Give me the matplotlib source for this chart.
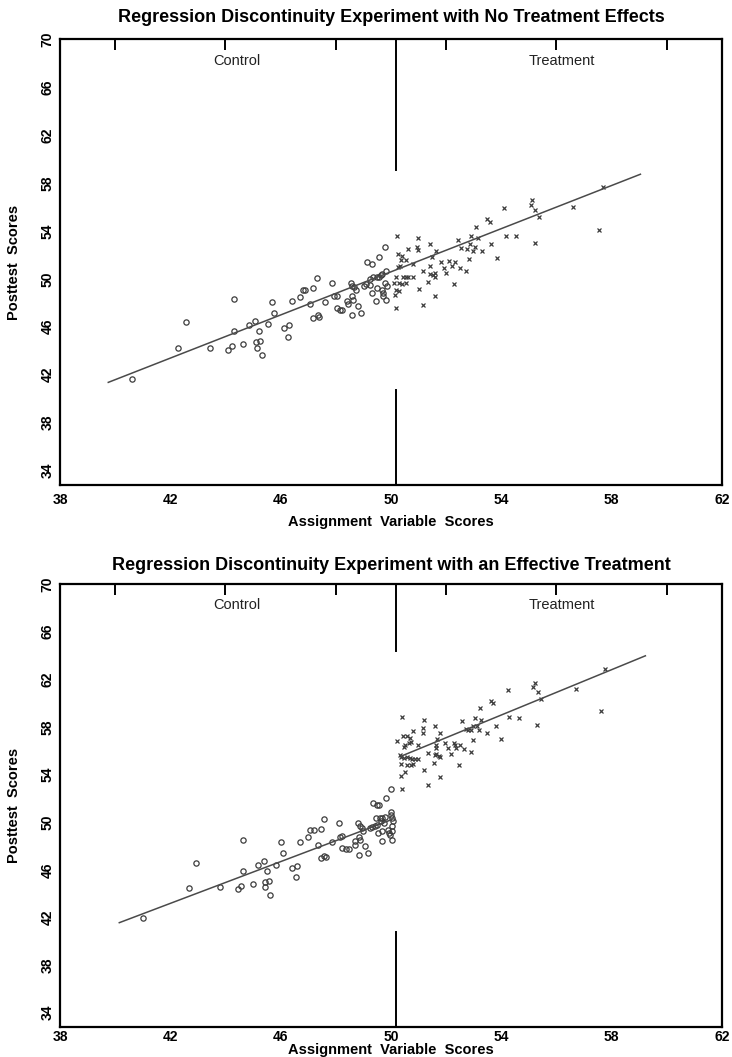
#%% IMPORTS
import numpy as np
import matplotlib
matplotlib.use('Agg')
from matplotlib import pyplot as plt
from matplotlib.ticker import FixedLocator

#%% DATA
# top panel - no treatment effect
top_ctrl_x = [40.62, 42.29, 42.57, 43.45, 44.30, 44.10, 44.24, 44.30, 44.65, 44.85, 45.07, 45.20, 45.10,
              45.26, 45.14, 45.32, 45.54, 45.69, 45.77, 46.14, 46.30, 46.26, 46.43, 46.72, 46.82, 46.90,
              47.19, 47.32, 47.08, 47.18, 47.34, 47.40, 47.61, 47.87, 47.94, 48.06, 48.03, 48.14, 48.23,
              48.42, 48.46, 48.54, 48.60, 48.66, 48.60, 48.63, 48.59, 48.81, 48.92, 48.75, 49.03, 49.11,
              49.23, 49.15, 49.33, 49.26, 49.35, 49.48, 49.57, 49.32, 49.45, 49.57, 49.48, 49.66, 49.72,
              49.70, 49.79, 49.81, 49.80, 49.86, 49.82, 49.64, 49.69]
top_ctrl_y = [41.67, 44.25, 46.39, 44.25, 48.31, 44.10, 44.36, 45.67, 44.53, 46.14, 46.44, 45.64, 44.72,
              44.83, 44.25, 43.61, 46.19, 48.08, 47.17, 45.89, 46.14, 45.14, 48.11, 48.47, 49.06, 49.06,
              49.22, 50.06, 47.86, 46.72, 46.94, 46.80, 48.06, 49.69, 48.58, 48.58, 47.56, 47.42, 47.42,
              48.11, 47.92, 49.64, 49.42, 49.31, 48.53, 48.25, 46.94, 47.75, 47.14, 49.03, 49.36, 49.58,
              49.50, 51.42, 51.25, 50.00, 50.19, 50.14, 50.19, 48.81, 48.11, 51.78, 49.22, 49.08, 48.81,
              48.58, 52.61, 50.67, 49.67, 49.36, 48.22, 50.31, 50.42]
top_trt_x = [50.21, 50.20, 50.15, 50.20, 50.29, 50.13, 50.17, 50.28, 50.24, 50.32, 50.27, 50.42, 50.40,
             50.44, 50.54, 50.56, 50.63, 50.38, 50.54, 50.62, 50.81, 50.82, 50.95, 50.99, 51.00, 51.02,
             51.16, 51.16, 51.36, 51.43, 51.41, 51.43, 51.49, 51.53, 51.59, 51.61, 51.65, 51.60, 51.82,
             51.93, 52.00, 52.10, 52.20, 52.31, 52.30, 52.42, 52.50, 52.55, 52.73, 52.77, 52.82, 52.87,
             52.92, 52.99, 53.04, 53.10, 53.16, 53.32, 53.47, 53.58, 53.64, 53.86, 54.10, 54.16, 54.52,
             55.10, 55.09, 55.24, 55.21, 55.37, 56.61, 57.69, 57.55]
top_trt_y = [53.61, 47.56, 48.61, 49.03, 48.94, 49.69, 50.11, 49.64, 50.97, 51.08, 52.06, 51.94, 49.58,
             50.19, 50.19, 49.64, 50.14, 51.58, 51.53, 52.47, 50.11, 51.25, 52.64, 52.36, 53.42, 49.14,
             47.81, 50.61, 49.72, 52.92, 50.42, 51.08, 51.81, 50.31, 50.19, 50.47, 52.33, 48.53, 51.39,
             50.92, 50.50, 51.50, 51.03, 51.39, 49.56, 53.25, 50.86, 52.56, 50.61, 52.47, 51.64, 52.92,
             53.58, 52.31, 52.64, 54.36, 53.44, 52.33, 54.97, 54.75, 52.86, 51.72, 55.94, 53.61, 53.56,
             56.53, 56.17, 55.75, 52.97, 55.14, 55.97, 57.64, 54.08]
top_fit_x = [39.75, 59.05]
top_fit_y = [41.36, 58.72]

# bottom panel - effective treatment
bot_ctrl_x = [41.02, 42.66, 42.93, 43.80, 44.63, 44.44, 44.58, 44.63, 45.00, 45.17, 45.39, 45.51, 45.43,
              45.57, 45.45, 45.63, 45.85, 46.00, 46.07, 46.43, 46.59, 46.55, 46.72, 47.00, 47.08, 47.20,
              47.47, 47.59, 47.34, 47.47, 47.58, 47.66, 47.87, 48.11, 48.16, 48.24, 48.24, 48.36, 48.48,
              48.69, 48.71, 48.81, 48.87, 48.96, 48.85, 48.87, 48.85, 49.05, 49.17, 48.99, 49.23, 49.33,
              49.42, 49.51, 49.35, 49.50, 49.57, 49.45, 49.59, 49.69, 49.79, 49.65, 49.74, 49.55, 49.68,
              49.68, 49.81, 49.88, 49.93, 49.96, 50.00, 50.00, 50.03, 50.07, 50.03, 50.04, 50.03, 49.99]
bot_ctrl_y = [41.92, 44.50, 46.61, 44.53, 48.47, 44.36, 44.64, 45.89, 44.78, 46.39, 46.72, 45.86, 45.00,
              45.08, 44.56, 43.89, 46.42, 48.31, 47.42, 46.14, 46.36, 45.42, 48.33, 48.72, 49.31, 49.31,
              49.42, 50.28, 48.08, 47.00, 47.19, 47.06, 48.31, 49.92, 48.78, 48.81, 47.83, 47.72, 47.72,
              48.39, 48.11, 49.92, 49.64, 49.50, 48.72, 48.47, 47.22, 47.97, 47.44, 49.22, 49.50, 49.61,
              49.64, 49.78, 51.64, 51.44, 51.44, 50.33, 50.39, 50.39, 50.42, 50.06, 49.97, 49.08, 49.22,
              48.39, 52.00, 49.36, 49.08, 48.89, 50.89, 50.61, 50.39, 50.11, 49.64, 49.28, 48.47, 52.81]
bot_trt_x = [50.40, 51.35, 50.42, 50.22, 50.45, 50.58, 50.68, 50.46, 50.50, 50.64, 50.72, 50.32, 50.37,
             50.46, 50.58, 50.68, 50.78, 50.87, 50.98, 50.36, 50.58, 50.72, 50.80, 50.36, 50.50, 50.82,
             50.98, 51.19, 51.15, 51.15, 51.21, 51.34, 51.55, 51.59, 51.65, 51.75, 51.77, 51.61, 51.67,
             51.79, 51.62, 51.65, 51.79, 51.96, 52.08, 52.18, 52.28, 52.34, 52.37, 52.48, 52.49, 52.58,
             52.66, 52.72, 52.81, 52.90, 52.96, 52.92, 52.99, 53.05, 53.14, 53.19, 53.26, 53.25, 53.47,
             53.62, 53.72, 53.80, 54.00, 54.23, 54.29, 54.63, 55.21, 55.17, 55.32, 55.31, 55.45, 56.70,
             57.75, 57.62]
bot_trt_y = [52.81, 53.11, 58.81, 56.78, 57.25, 57.22, 57.11, 56.31, 56.50, 56.61, 56.72, 55.61, 55.47,
             55.39, 55.44, 55.39, 55.33, 55.33, 55.28, 54.92, 54.83, 54.83, 54.92, 53.89, 54.22, 57.69,
             56.50, 58.61, 57.89, 57.53, 54.39, 55.83, 55.00, 55.61, 55.75, 55.56, 55.44, 58.11, 57.00,
             57.50, 56.44, 56.22, 53.81, 56.61, 56.25, 55.72, 56.67, 56.50, 56.25, 54.78, 56.50, 58.47,
             56.17, 57.83, 57.75, 55.86, 56.86, 57.72, 58.06, 58.78, 58.06, 57.78, 58.61, 59.56, 57.53,
             60.19, 59.97, 58.08, 57.00, 61.14, 58.83, 58.78, 61.72, 61.31, 60.94, 58.17, 60.31, 61.17,
             62.83, 59.33]
bot_ctrl_fit_x = [40.15, 50.00]
bot_ctrl_fit_y = [41.56, 50.19]
bot_trt_fit_x = [50.38, 59.23]
bot_trt_fit_y = [55.55, 63.97]

cutoff = 50.2
x_ticklabels = [38, 42, 46, 50, 54, 58, 62]
y_ticklabels = [34, 38, 42, 46, 50, 54, 58, 62, 66, 70]

#%% STYLE
plt.rcParams['font.family'] = ['Liberation Sans', 'DejaVu Sans']
pt_color = '#3c3c3c'
line_color = '#4a4a4a'


def draw_panel(ax, title, ctrl, trt, fits, cut_gap, tick_pad, xlabel_y, title_pad):
    ax.plot(ctrl[0], ctrl[1], linestyle='none', marker='o', ms=3.8, mfc='none',
            mec=pt_color, mew=0.9)
    ax.plot(trt[0], trt[1], linestyle='none', marker='x', ms=3.2,
            mec=pt_color, mew=0.9)
    for fx, fy in fits:
        ax.plot(fx, fy, color=line_color, lw=1.1)

    # cutoff line, broken where the data are
    ax.plot([cutoff, cutoff], [cut_gap[1], 70], color='black', lw=1.4)
    ax.plot([cutoff, cutoff], [32.8, cut_gap[0]], color='black', lw=1.4)

    ax.text(44.4, 68.2, 'Control', ha='center', va='center', fontsize=10.5, color='#222222')
    ax.text(56.2, 68.2, 'Treatment', ha='center', va='center', fontsize=10.5, color='#222222')

    ax.set_xlim(38, 62)
    ax.set_ylim(32.8, 70)
    ax.set_xticks(x_ticklabels)
    ax.set_yticks(y_ticklabels)
    ax.set_yticklabels([str(v) for v in y_ticklabels], rotation=90, va='center')
    ax.xaxis.set_minor_locator(FixedLocator(np.arange(40, 61, 2)))
    ax.yaxis.set_minor_locator(FixedLocator(np.arange(38, 67, 4)))
    ax.tick_params(which='major', length=0, labelsize=10)
    ax.tick_params(axis='x', which='major', pad=tick_pad)
    ax.tick_params(axis='y', which='major', pad=4)
    ax.tick_params(which='minor', direction='in', length=8, width=1.4,
                   top=True, bottom=False, left=True, right=True)
    for lab in ax.get_xticklabels() + ax.get_yticklabels():
        lab.set_fontweight('bold')
    for sp in ax.spines.values():
        sp.set_linewidth(1.6)

    ax.set_title(title, fontsize=13, fontweight='bold', pad=title_pad)
    ax.set_xlabel('Assignment  Variable  Scores', fontsize=10.5, fontweight='bold')
    ax.set_ylabel('Posttest  Scores', fontsize=10.5, fontweight='bold')
    ax.xaxis.set_label_coords(0.5, xlabel_y)
    ax.yaxis.set_label_coords(-0.059, 0.5)


#%% PLOT
fig = plt.figure(figsize=(7.32, 10.57), dpi=100)
ax_top = fig.add_axes([0.082, 1 - 485 / 1057, 0.904, 446 / 1057])
ax_bot = fig.add_axes([0.082, 1 - 1027 / 1057, 0.904, 443 / 1057])

draw_panel(ax_top, 'Regression Discontinuity Experiment with No Treatment Effects',
           (top_ctrl_x, top_ctrl_y), (top_trt_x, top_trt_y),
           [(top_fit_x, top_fit_y)], (40.75, 59.1), 6, -0.068, 12)
draw_panel(ax_bot, 'Regression Discontinuity Experiment with an Effective Treatment',
           (bot_ctrl_x, bot_ctrl_y), (bot_trt_x, bot_trt_y),
           [(bot_ctrl_fit_x, bot_ctrl_fit_y), (bot_trt_fit_x, bot_trt_fit_y)],
           (40.75, 64.4), 2, -0.036, 10)

fig.savefig('out.png', dpi=100)
